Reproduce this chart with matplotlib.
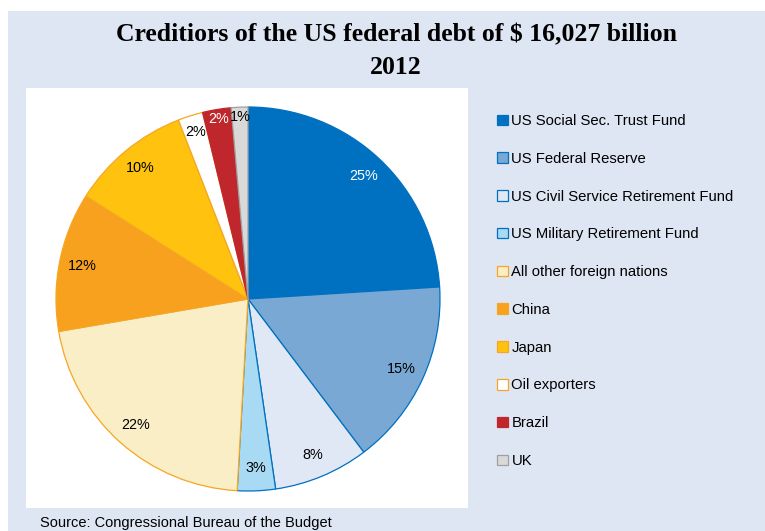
import matplotlib
matplotlib.use("Agg")
import numpy as np
import matplotlib.pyplot as plt
from matplotlib.patches import Rectangle

categories = ["US Social Sec. Trust Fund", "US Federal Reserve", "US Civil Service Retirement Fund",
              "US Military Retirement Fund", "All other foreign nations", "China", "Japan",
              "Oil exporters", "Brazil", "UK"]
values = [24.0, 15.7, 8.0, 3.2, 21.4, 11.7, 10.1, 2.1, 2.4, 1.4]
pct_labels = ["25%", "15%", "8%", "3%", "22%", "12%", "10%", "2%", "2%", "1%"]

face_colors = ["#0070C0", "#7AA8D4", "#E1E8F5", "#A9DAF3", "#FAEEC7", "#F7A11F", "#FFC20E",
               "#FFFFFF", "#C0272D", "#D9D9D9"]
edge_colors = ["#0070C0", "#0070C0", "#0070C0", "#0070C0", "#F5A623", "#F5A623", "#F5A623",
               "#F5A623", "#C0272D", "#A0A0A0"]
label_colors = ["white", "black", "black", "black", "black", "black", "black", "black", "white", "black"]
label_dist = [0.88, 0.88, 0.88, 0.88, 0.88, 0.88, 0.88, 0.91, 0.95, 0.95]

W, H = 765, 531
fig = plt.figure(figsize=(W / 100, H / 100), dpi=100)
fig.patch.set_facecolor("white")

def fx(px):
    return px / W

def fy(py):
    return 1 - py / H

# background panels
fig.patches.append(Rectangle((fx(8), 0), 1 - fx(8), fy(11), transform=fig.transFigure,
                             facecolor="#DFE6F3", edgecolor="none", zorder=-3))
fig.patches.append(Rectangle((fx(26), fy(508)), fx(468) - fx(26), fy(88) - fy(508),
                             transform=fig.transFigure, facecolor="white", edgecolor="none", zorder=-2))

# title
fig.text(fx(396), fy(35), "Creditiors of the US federal debt of $ 16,027 billion",
         ha="center", va="center", fontsize=18.5, fontweight="bold", family="Liberation Serif")
fig.text(fx(396), fy(67), "2012", ha="center", va="center", fontsize=18.5,
         fontweight="bold", family="Liberation Serif")

# pie
cx, cy, r = 248, 299, 192
ax = fig.add_axes([fx(cx - r), fy(cy + r), (2 * r) / W, (2 * r) / H])
ax.set_zorder(2)
ax.set_facecolor("none")
wedges, texts = ax.pie(values, labels=pct_labels, colors=face_colors, startangle=90,
                       counterclock=False, labeldistance=0.88,
                       wedgeprops=dict(linewidth=0.9),
                       textprops=dict(fontsize=10.4, family="Liberation Sans"))
for w, ec in zip(wedges, edge_colors):
    w.set_edgecolor(ec)
for w, t, c, d in zip(wedges, texts, label_colors, label_dist):
    t.set_color(c)
    t.set_ha("center")
    t.set_va("center")
    mid = np.deg2rad((w.theta1 + w.theta2) / 2)
    t.set_position((d * np.cos(mid), d * np.sin(mid)))
ax.set_xlim(-1, 1)
ax.set_ylim(-1, 1)
ax.set_aspect("equal")

# legend
leg = fig.legend(wedges, categories, loc="upper left", bbox_to_anchor=(fx(497), fy(114)),
                 frameon=False, handlelength=0.72, handleheight=0.72,
                 handletextpad=0.25, labelspacing=1.6, borderaxespad=0, borderpad=0,
                 prop=dict(family="Liberation Sans", size=10.7))

# source
fig.text(fx(40), fy(530), "Source: Congressional Bureau of the Budget", ha="left", va="bottom",
         fontsize=10.5, family="Liberation Sans")

fig.savefig("out.png", dpi=100)
